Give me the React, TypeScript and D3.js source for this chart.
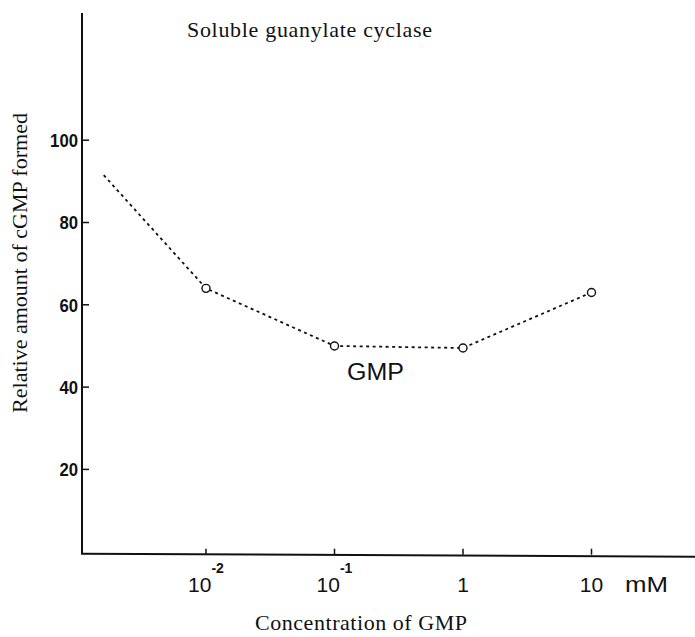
import * as d3 from 'd3'

// GMP concentration (mM) vs relative cGMP formed
const concentrations = [0.0016, 0.01, 0.1, 1, 10]
const relativeAmount = [91.5, 64, 50, 49.5, 63]
const hasMarker = [false, true, true, true, true]

const yTicks = [20, 40, 60, 80, 100]
const xTicks = [0.01, 0.1, 1, 10]
const xTickBase = ['10', '10', '1', '10']
const xTickExp = ['-2', '-1', '', '']

const title = 'Soluble guanylate cyclase'
const yTitle = 'Relative amount of cGMP formed'
const xTitle = 'Concentration of GMP'
const seriesLabel = 'GMP'
const unitLabel = 'mM'

const W = 695
const H = 637
const serif = "'Liberation Serif', 'DejaVu Serif', serif"
const sans = "'Liberation Sans', Arial, sans-serif"
const narrow = "'Liberation Sans Narrow', 'Liberation Sans', sans-serif"

export default function App() {
  const x = d3.scaleLog().domain([0.01, 10]).range([206, 591.5])
  const y = d3.scaleLinear().domain([0, 100]).range([551.7, 140.2])
  const axisX = 82
  const axisY = y(0) + 2

  const pts = concentrations.map((c, i) => ({ c, v: relativeAmount[i], m: hasMarker[i] }))
  const line = d3
    .line<{ c: number; v: number }>()
    .x((d) => x(d.c))
    .y((d) => y(d.v))

  return (
    <div style={{ position: 'absolute', left: 0, top: 0 }}>
      <svg width={W} height={H} viewBox={`0 0 ${W} ${H}`} style={{ display: 'block', background: '#fff' }}>
        <rect width={W} height={H} fill="#fff" />

        {/* axes */}
        <line x1={axisX} x2={axisX} y1={13} y2={axisY} stroke="#111" strokeWidth={2} />
        <line x1={axisX - 1} x2={W} y1={axisY} y2={axisY + 3} stroke="#111" strokeWidth={2} />

        {yTicks.map((t) => (
          <g key={t}>
            <line x1={axisX} x2={axisX + 7} y1={y(t)} y2={y(t)} stroke="#111" strokeWidth={1.5} />
            <text
              x={axisX - 4}
              y={y(t)}
              dy="0.36em"
              textAnchor="end"
              fontFamily={narrow}
              fontWeight="bold"
              fontSize={19}
              textLength={String(t).length * 9.3}
              lengthAdjust="spacingAndGlyphs"
              fill="#111"
            >
              {t}
            </text>
          </g>
        ))}

        {xTicks.map((t, i) => (
          <g key={t}>
            <line x1={x(t)} x2={x(t)} y1={axisY + 1} y2={axisY - 5} stroke="#111" strokeWidth={1.5} />
            <text x={x(t)} y={592} textAnchor="middle" fontFamily={sans} fontSize={21} fill="#111">
              {xTickBase[i]}
              {xTickExp[i] && (
                <tspan dy={-19} fontFamily={narrow} fontWeight="bold" fontSize={14}>
                  {xTickExp[i]}
                </tspan>
              )}
            </text>
          </g>
        ))}
        <text x={625} y={592} fontFamily={sans} fontSize={22} textLength={43} lengthAdjust="spacingAndGlyphs" fill="#111">
          {unitLabel}
        </text>

        {/* series */}
        <path
          d={line(pts) ?? ''}
          fill="none"
          stroke="#111"
          strokeWidth={1.8}
          strokeDasharray="3,3.5"
        />
        {pts
          .filter((d) => d.m)
          .map((d) => (
            <circle key={d.c} cx={x(d.c)} cy={y(d.v)} r={4} fill="#fff" stroke="#111" strokeWidth={1.4} />
          ))}
        <text x={347} y={380} fontFamily={sans} fontSize={23} textLength={57} lengthAdjust="spacingAndGlyphs" fill="#111">
          {seriesLabel}
        </text>

        {/* titles */}
        <text x={187} y={37} fontFamily={serif} fontSize={22} textLength={245} lengthAdjust="spacing" fill="#111">
          {title}
        </text>
        <text
          transform={`translate(27, 263) rotate(-90)`}
          textAnchor="middle"
          fontFamily={serif}
          fontSize={22}
          fill="#111"
        >
          {yTitle}
        </text>
        <text x={361} y={630} textAnchor="middle" fontFamily={serif} fontSize={22} textLength={212} lengthAdjust="spacing" fill="#111">
          {xTitle}
        </text>
      </svg>
    </div>
  )
}
